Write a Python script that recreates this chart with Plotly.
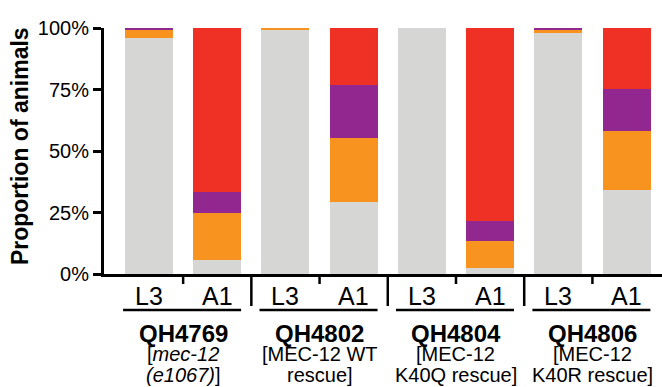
import plotly.graph_objects as go

# ---- data ----
stages = ["L3", "A1", "L3", "A1", "L3", "A1", "L3", "A1"]
groups = ["QH4769", "QH4802", "QH4804", "QH4806"]
group_sub1 = ["[<i>mec-12</i>", "[MEC-12 WT", "[MEC-12", "[MEC-12"]
group_sub2 = ["<i>(e1067)</i>]", "rescue]", "K40Q rescue]", "K40R rescue]"]
gray = [96.0, 5.7, 99.3, 29.3, 100.0, 2.3, 98.0, 34.1]
orange = [3.5, 19.0, 0.7, 26.0, 0.0, 11.2, 1.2, 24.0]
purple = [0.5, 8.8, 0.0, 21.4, 0.0, 8.0, 0.8, 17.1]
red = [0.0, 66.5, 0.0, 23.3, 0.0, 78.5, 0.0, 24.8]
y_ticks = [0, 25, 50, 75, 100]
y_ticktext = ["0%", "25%", "50%", "75%", "100%"]

colors = {"gray": "#d6d6d5", "orange": "#f7931e", "purple": "#92278f", "red": "#ee3124"}

xpos = list(range(len(stages)))
XMIN, XMAX = -0.66, 7.52
FONT = "Liberation Sans, Arial, Helvetica, sans-serif"

fig = go.Figure()
for name, vals in [("gray", gray), ("orange", orange), ("purple", purple), ("red", red)]:
    fig.add_trace(go.Bar(x=xpos, y=vals, name=name, width=0.704,
                         marker=dict(color=colors[name], line=dict(width=0)),
                         showlegend=False))

def px(xv):
    return (xv - XMIN) / (XMAX - XMIN)

PH = 246.0  # plot height in px
def py(pix_below):
    return -pix_below / PH

shapes = []
annotations = []
for gi in range(len(groups)):
    l3, a1 = xpos[2 * gi], xpos[2 * gi + 1]
    mid = (l3 + a1) / 2
    shapes.append(dict(type="line", xref="paper", yref="paper",
                       x0=px(mid), x1=px(mid), y0=0, y1=py(10),
                       line=dict(color="black", width=2.5)))
    if gi < len(groups) - 1:
        sep = a1 + 0.5
        shapes.append(dict(type="line", xref="paper", yref="paper",
                           x0=px(sep), x1=px(sep), y0=0, y1=py(32),
                           line=dict(color="black", width=2.5)))
    shapes.append(dict(type="line", xref="paper", yref="paper",
                       x0=px(l3 - 0.38), x1=px(a1 + 0.35), y0=py(36), y1=py(36),
                       line=dict(color="black", width=2.5)))
    annotations.append(dict(x=mid, xref="x", y=py(59), yref="paper",
                            text="<b>" + groups[gi] + "</b>", showarrow=False,
                            font=dict(size=24, color="black", family=FONT),
                            yanchor="middle"))
    annotations.append(dict(x=mid, xref="x", y=py(80), yref="paper",
                            text=group_sub1[gi], showarrow=False,
                            font=dict(size=20, color="black", family=FONT),
                            yanchor="middle"))
    annotations.append(dict(x=mid, xref="x", y=py(100.5), yref="paper",
                            text=group_sub2[gi], showarrow=False,
                            font=dict(size=20, color="black", family=FONT),
                            yanchor="middle"))

for i, s in enumerate(stages):
    annotations.append(dict(x=xpos[i], xref="x", y=py(22), yref="paper",
                            text=s, showarrow=False,
                            font=dict(size=25, color="black", family=FONT),
                            yanchor="middle"))

annotations.append(dict(x=px(XMIN) - 84 / 558.0, xref="paper", y=0.52, yref="paper",
                        text="<b>Proportion of animals</b>", textangle=-90,
                        showarrow=False, font=dict(size=23, color="black", family=FONT),
                        xanchor="center", yanchor="middle"))

fig.update_layout(
    barmode="stack",
    bargap=0,
    width=662, height=387,
    margin=dict(l=104, r=0, t=28, b=113),
    paper_bgcolor="white", plot_bgcolor="white",
    font=dict(family=FONT, color="black"),
    shapes=shapes,
    annotations=annotations,
    xaxis=dict(range=[XMIN, XMAX], showticklabels=False, ticks="",
               showgrid=False, zeroline=False, showline=True,
               linecolor="black", linewidth=3),
    yaxis=dict(range=[0, 100], tickvals=y_ticks, ticktext=y_ticktext,
               ticks="outside", ticklen=8, tickwidth=3, tickcolor="black",
               showgrid=False, zeroline=False, showline=True,
               linecolor="black", linewidth=3,
               tickfont=dict(size=20, color="black", family=FONT)),
)

fig.write_html("out.html", config={"displayModeBar": False},
               post_script="document.body.style.margin='0';")
